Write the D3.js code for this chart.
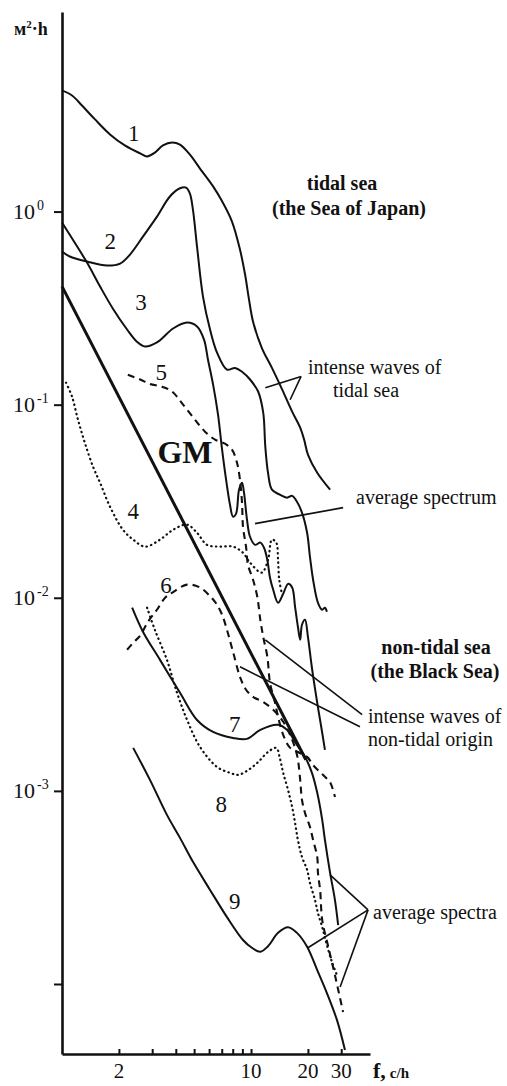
<!DOCTYPE html>
<html><head><meta charset="utf-8">
<script src="https://cdn.jsdelivr.net/npm/d3@7"></script>
<style>body{margin:0;background:#fff}svg{display:block}text{font-family:"Liberation Serif","Times New Roman",serif;fill:#111}</style>
</head><body>
<svg id="c" width="507" height="1086"></svg>
<script>
// ---- data: [frequency f (c/h), spectral density S (m^2·h)] ----
const curve1 = [[1.00,4.24],[1.13,3.99],[1.276,3.54],[1.495,3.00],[1.795,2.51],[2.15,2.20],[2.59,2.00],[2.82,1.93],[3.10,2.02],[3.42,2.20],[3.82,2.28],[4.21,2.22],[4.75,1.97],[5.37,1.67],[6.30,1.35],[7.03,1.13],[7.93,0.888],[8.74,0.636],[9.30,0.472],[9.76,0.350],[10.25,0.269],[11.4,0.197],[12.9,0.155],[14.6,0.120],[16.5,0.092],[18.2,0.076],[19.1,0.0659],[20.0,0.0551],[22.4,0.0444],[26.2,0.0363]];
const curve2 = [[1.00,0.621],[1.10,0.585],[1.356,0.551],[1.73,0.525],[2.03,0.538],[2.29,0.599],[2.68,0.742],[3.18,0.942],[3.73,1.20],[4.21,1.32],[4.53,1.33],[4.75,1.24],[4.93,1.02],[5.18,0.659],[5.57,0.363],[6.07,0.245],[6.61,0.186],[7.46,0.152],[8.23,0.155],[8.96,0.148],[9.88,0.135],[10.9,0.117],[11.6,0.091],[11.9,0.0606],[12.3,0.0444],[12.9,0.0363],[14.2,0.0342],[15.5,0.0330],[16.5,0.0337],[17.5,0.0314],[18.6,0.0276],[19.8,0.0217],[20.5,0.0163],[21.3,0.0124],[22.6,0.00942],[23.8,0.00867],[24.6,0.00888],[25.2,0.00846]];
const curve3 = [[1.00,0.877],[1.14,0.716],[1.356,0.544],[1.59,0.409],[1.86,0.314],[2.21,0.245],[2.49,0.212],[2.75,0.200],[3.18,0.210],[3.87,0.248],[4.59,0.266],[5.18,0.254],[5.64,0.217],[5.92,0.171],[6.30,0.127],[6.69,0.0888],[7.03,0.0585],[7.38,0.0409],[7.74,0.0303],[8.03,0.0263],[8.33,0.0272],[8.64,0.0363],[8.96,0.0394],[9.18,0.0350],[9.52,0.0254],[9.88,0.0207],[10.5,0.0188],[11.2,0.0193],[11.7,0.0182],[12.2,0.0157],[12.6,0.0127],[13.1,0.0110],[13.9,0.00942],[14.8,0.0105],[15.7,0.0118],[16.5,0.0113],[17.1,0.00898],[17.7,0.00708],[18.2,0.00606],[18.6,0.00725],[19.3,0.00769],[20.0,0.00628],[21.0,0.00434],[22.4,0.00286],[23.8,0.00200],[24.6,0.00163]];
const curve4 = [[1.05,0.130],[1.13,0.110],[1.215,0.0836],[1.32,0.0636],[1.46,0.0477],[1.59,0.0394],[1.795,0.0296],[2.10,0.0225],[2.38,0.0200],[2.75,0.0184],[3.30,0.0200],[3.87,0.0225],[4.59,0.0239],[5.18,0.0217],[5.85,0.0188],[6.85,0.0184],[8.03,0.0184],[9.07,0.0171],[9.88,0.0152],[11.4,0.0135],[12.3,0.0157],[12.9,0.0200],[13.6,0.0193],[13.9,0.0157],[14.1,0.0124],[14.6,0.0104]];
const curve5 = [[2.23,0.143],[2.59,0.135],[2.92,0.128],[3.38,0.124],[3.82,0.117],[4.37,0.100],[5.05,0.0836],[5.71,0.0725],[6.45,0.0659],[7.28,0.0628],[7.93,0.0585],[8.43,0.0500],[8.74,0.0409],[8.96,0.0311],[9.07,0.0233],[9.41,0.0184],[9.64,0.0148],[10.25,0.0124],[10.8,0.0101],[11.2,0.00769],[11.6,0.00628],[12.2,0.00495],[12.6,0.00363],[13.4,0.00286],[13.9,0.00242],[14.8,0.00195],[16.1,0.00167],[17.7,0.00159],[19.8,0.00150],[21.3,0.00136],[23.2,0.00125],[24.9,0.00117],[26.2,0.00111],[27.8,0.000931]];
const curve6 = [[2.21,0.00538],[2.38,0.00585],[2.59,0.00636],[2.85,0.00751],[3.18,0.00867],[3.51,0.0100],[3.87,0.0107],[4.59,0.0117],[5.37,0.0113],[6.07,0.0102],[6.61,0.00920],[7.03,0.00817],[7.46,0.00682],[8.03,0.00525],[8.74,0.00390],[9.41,0.00334],[10.25,0.00307],[11.6,0.00289],[13.1,0.00263],[14.8,0.00228],[16.1,0.00195],[17.5,0.00154],[18.2,0.00114],[18.6,0.000898],[19.3,0.000769],[20.5,0.000651],[21.3,0.000557],[22.4,0.000455],[22.6,0.000376],[23.2,0.000307],[23.8,0.000215],[25.5,0.000159],[27.8,0.000111],[30.7,0.0000716]];
const curve7 = [[2.35,0.00888],[2.68,0.00667],[3.30,0.00477],[4.21,0.00322],[5.18,0.00233],[6.30,0.00202],[8.03,0.00188],[9.52,0.00186],[11.2,0.00207],[13.9,0.00220],[15.5,0.00207],[17.5,0.00173],[19.3,0.00150],[21.0,0.00124],[22.4,0.000977],[23.8,0.000708],[24.6,0.000557],[26.2,0.000376],[27.8,0.000272],[28.9,0.000202]];
const curve8 = [[2.82,0.00888],[3.10,0.00682],[3.59,0.00477],[4.06,0.00322],[4.59,0.00233],[5.37,0.00169],[6.61,0.00133],[7.74,0.00124],[8.54,0.00121],[9.64,0.00128],[10.9,0.00141],[12.3,0.00159],[13.6,0.00167],[14.2,0.00148],[14.8,0.00124],[15.7,0.00101],[16.5,0.000826],[17.1,0.000683],[17.7,0.000557],[18.6,0.000455],[19.8,0.000390],[20.5,0.000334],[21.8,0.000272],[22.6,0.000233],[23.8,0.000197],[25.2,0.000159],[26.8,0.000130],[28.5,0.000111]];
const curve9 = [[2.38,0.00167],[2.92,0.00114],[3.59,0.000751],[4.21,0.000571],[4.93,0.000429],[6.07,0.000307],[7.46,0.000222],[9.07,0.000169],[10.1,0.000154],[11.2,0.000147],[12.3,0.000157],[13.9,0.000184],[15.7,0.000197],[17.5,0.000184],[19.8,0.000156],[22.4,0.000118],[25.2,0.0000898],[28.5,0.0000650],[31.4,0.0000455]];
const gmLine = [[1.00,0.41],[19.5,0.00145]];

const xTicks = [2,3,4,5,6,7,8,9,10,20,30];
const xTickLabels = [[2,"2"],[10,"10"],[20,"20"],[30,"30"]];
const yTicks = [1,0.1,0.01,0.001,0.0001];
const yTickLabels = [[1,"0"],[0.1,"-1"],[0.01,"-2"],[0.001,"-3"]];
const fRange = [1, 42.6];
const sRange = [10.8, 4.34e-5];

// curve number labels [f, S, text]
const curveLabels = [[2.40,2.55,"1"],[1.80,0.705,"2"],[2.62,0.342,"3"],[3.35,0.147,"5"],[2.38,0.0282,"4"],[3.55,0.0117,"6"],[8.2,0.00222,"7"],[6.95,0.00086,"8"],[8.2,0.000268,"9"]];
// leader lines: [from, to] in data coordinates
const leaders = [
  [[18.4,0.140],[11.9,0.1225]],[[18.4,0.140],[16.1,0.106]],
  [[10.5,0.0242],[30.7,0.0293]],
  [[11.9,0.00606],[38.7,0.00248]],[[8.74,0.00439],[37.7,0.00215]],
  [[41.6,0.000242],[26.2,0.000367]],[[41.6,0.000242],[20.0,0.000154]],[[41.6,0.000242],[29.6,0.0000965]]
];

// ---- drawing ----
const svg = d3.select("#c");
const x = d3.scaleLog().domain(fRange).range([62, 370]);
const y = d3.scaleLog().domain(sRange).range([12, 1054]);

const line = d3.line().x(d => x(d[0])).y(d => y(d[1])).curve(d3.curveCatmullRom.alpha(0.5));
const straight = d3.line().x(d => x(d[0])).y(d => y(d[1]));

function draw(data, style, gen) {
  const p = svg.append("path").attr("d", (gen || line)(data)).attr("fill", "none")
    .attr("stroke", "#111").attr("stroke-width", style.w || 2)
    .attr("stroke-linejoin", "round");
  if (style.dash) p.attr("stroke-dasharray", style.dash);
  if (style.cap) p.attr("stroke-linecap", style.cap);
  return p;
}
const DOT = {dash: "0.5,4.2", cap: "round", w: 2.2};
const DASH = {dash: "7,5", w: 2.1};

draw(curve1, {});
draw(curve2, {});
draw(curve3, {});
draw(gmLine, {w: 3}, straight);
draw(curve4, DOT);
draw(curve5, DASH);
draw(curve6, DASH);
draw(curve7, {});
draw(curve8, DOT);
draw(curve9, {});

// leader lines
leaders.forEach(l => draw(l, {w: 1.6}, straight));

// axes
const yAxis = d3.axisLeft(y).tickValues(yTicks).tickSize(8).tickSizeOuter(0).tickFormat("");
const ga = svg.append("g").attr("transform", "translate(62,0)").call(yAxis);
const xAxis = d3.axisBottom(x).tickValues(xTicks).tickSize(-5).tickSizeOuter(0).tickFormat("");
const gb = svg.append("g").attr("transform", "translate(0,1054)").call(xAxis);
[ga, gb].forEach(g => {
  g.select(".domain").attr("stroke", "#111").attr("stroke-width", 2.6);
  g.selectAll(".tick line").attr("stroke", "#111").attr("stroke-width", 2);
});

// y tick labels 10^n
yTickLabels.forEach(([v, e]) => {
  const t = svg.append("text").attr("x", 13).attr("y", y(v) + 7).attr("font-size", 22);
  t.append("tspan").text("10");
  t.append("tspan").attr("dy", -9).attr("dx", 2).attr("font-size", 14).text(e);
});
// x tick labels
xTickLabels.forEach(([v, s]) => {
  svg.append("text").attr("x", x(v)).attr("y", 1078).attr("text-anchor", "middle").attr("font-size", 21).text(s);
});
const fl = svg.append("text").attr("x", 373).attr("y", 1078).attr("font-size", 22).attr("font-weight", "bold");
fl.append("tspan").text("f,");
fl.append("tspan").attr("dx", 4).attr("font-size", 15).text("c/h");

// y unit
const yl = svg.append("text").attr("x", 14).attr("y", 35).attr("font-size", 18).attr("font-weight", "bold");
yl.append("tspan").text("м");
yl.append("tspan").attr("dy", -7).attr("font-size", 11).text("2");
yl.append("tspan").attr("dy", 7).text("·h");

// curve labels
curveLabels.forEach(([f, s, t]) => {
  svg.append("text").attr("x", x(f)).attr("y", y(s) + 8).attr("text-anchor", "middle").attr("font-size", 23).text(t);
});
svg.append("text").attr("x", 185).attr("y", 463).attr("text-anchor", "middle").attr("font-size", 32).attr("font-weight", "bold").text("GM");

// annotations
function txt(xp, yp, s, opt) {
  opt = opt || {};
  svg.append("text").attr("x", xp).attr("y", yp).attr("font-size", opt.size || 20)
    .attr("font-weight", opt.bold ? "bold" : null)
    .attr("text-anchor", opt.anchor || "start").text(s);
}
txt(342, 190, "tidal sea", {bold: true, anchor: "middle"});
txt(349, 215, "(the Sea of Japan)", {bold: true, anchor: "middle"});
txt(308, 374, "intense waves of");
txt(333, 397, "tidal sea");
txt(356, 504, "average spectrum");
txt(436, 654, "non-tidal sea", {bold: true, anchor: "middle"});
txt(435, 678, "(the Black Sea)", {bold: true, anchor: "middle"});
txt(368, 723, "intense waves of");
txt(368, 746, "non-tidal origin");
txt(373, 919, "average spectra");
</script>
</body></html>
